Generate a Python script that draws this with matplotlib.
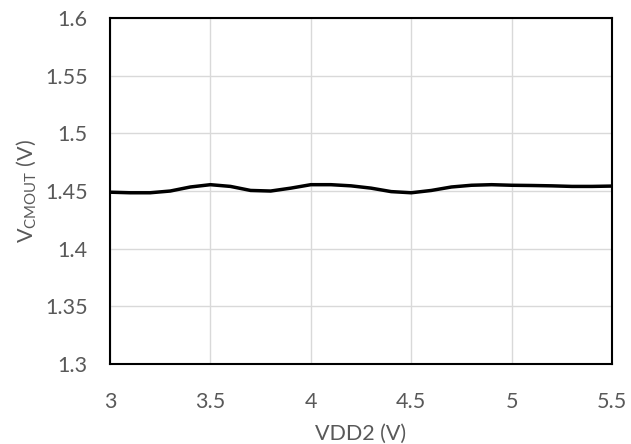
import matplotlib
matplotlib.use("Agg")
import matplotlib.pyplot as plt

vdd2 = [3.0, 3.1, 3.2, 3.3, 3.4, 3.5, 3.6, 3.7, 3.8, 3.9, 4.0, 4.1, 4.2,
        4.3, 4.4, 4.5, 4.6, 4.7, 4.8, 4.9, 5.0, 5.1, 5.2, 5.3, 5.4, 5.5]
vcmout = [1.449, 1.4485, 1.4485, 1.450, 1.4535, 1.4555, 1.454, 1.4505, 1.450,
          1.4525, 1.4555, 1.4555, 1.4545, 1.4525, 1.4495, 1.4485, 1.4505,
          1.4535, 1.455, 1.4555, 1.455, 1.4548, 1.4545, 1.454, 1.454, 1.4543]

x_ticks = [3, 3.5, 4, 4.5, 5, 5.5]
y_ticks = [1.3, 1.35, 1.4, 1.45, 1.5, 1.55, 1.6]

plt.rcParams["font.family"] = ["Lato", "DejaVu Sans"]
plt.rcParams["mathtext.fontset"] = "custom"
plt.rcParams["mathtext.rm"] = "Lato"
plt.rcParams["mathtext.it"] = "Lato"

fig = plt.figure(figsize=(6.31, 4.44), dpi=100)
ax = fig.add_axes([0.1743, 0.180, 0.7957, 0.7795])

ax.plot(vdd2, vcmout, color="black", linewidth=2.5, solid_capstyle="butt")

ax.set_xlim(3, 5.5)
ax.set_ylim(1.3, 1.6)
ax.set_xticks(x_ticks)
ax.set_xticklabels([f"{t:g}" for t in x_ticks])
ax.set_yticks(y_ticks)
ax.set_yticklabels([f"{t:g}" for t in y_ticks])

ax.grid(True, color="#d9d9d9", linewidth=1.0)
ax.set_axisbelow(True)
for s in ax.spines.values():
    s.set_color("black")
    s.set_linewidth(1.5)

ax.tick_params(length=0, labelsize=15.5, labelcolor="#595959")
ax.tick_params(axis="x", pad=20)
ax.tick_params(axis="y", pad=16)
ax.set_xlabel("VDD2 (V)", fontsize=15.5, color="#595959", labelpad=9)
ax.set_ylabel(r"V$_{\mathregular{CMOUT}}$ (V)", fontsize=15.5, color="#595959", labelpad=5)

fig.savefig("out.png", dpi=100)
